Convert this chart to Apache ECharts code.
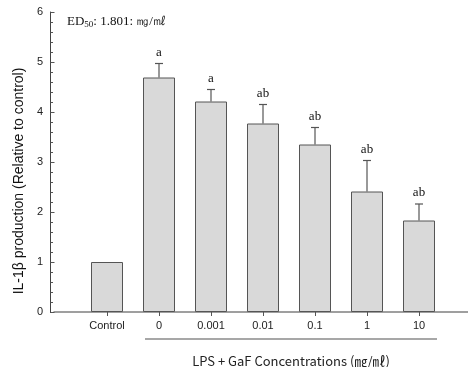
<!DOCTYPE html>
<html>
<head>
<meta charset="utf-8">
<script src="https://cdn.jsdelivr.net/npm/echarts@6/dist/echarts.min.js"></script>
<style>
  html, body { margin: 0; padding: 0; background: #fff; }
  #main { width: 468px; height: 367px; }
</style>
</head>
<body>
<div id="main"></div>
<script>
// data
var categories = ['Control', '0', '0.001', '0.01', '0.1', '1', '10'];
var means = [1.0, 4.69, 4.21, 3.77, 3.35, 2.41, 1.83];
var errors = [0, 0.28, 0.24, 0.38, 0.34, 0.62, 0.33];
var letters = ['', 'a', 'a', 'ab', 'ab', 'ab', 'ab'];
var yMin = 0, yMax = 6;
var yMinorStep = 0.2;

var myChart = echarts.init(document.getElementById('main'));

var errData = means.map(function (v, i) { return [i, v, errors[i], letters[i]]; });

var option = {
    animation: false,
    backgroundColor: '#fff',
    title: {
        text: '{a|ED}{s|50}{a|: 1.801: ㎎/㎖}',
        left: 62,
        top: 9,
        textStyle: {
            rich: {
                a: { fontFamily: 'Liberation Serif', fontSize: 13, fontWeight: 'normal', color: '#111' },
                s: { fontFamily: 'Liberation Serif', fontSize: 9, fontWeight: 'normal', color: '#111', verticalAlign: 'bottom', padding: [6, 0, 0, 0] }
            }
        }
    },
    grid: [
        { left: 81, right: 23, top: 12, bottom: 55 },   // bars
        { left: 54, right: 0, top: 12, bottom: 55 },    // long baseline
        { left: 50, right: 0, top: 12, bottom: 55 }     // y axis
    ],
    xAxis: [
        {
            type: 'category',
            gridIndex: 0,
            data: categories,
            axisLine: { show: false },
            axisTick: { show: true, alignWithLabel: true, length: 4, lineStyle: { color: '#555' } },
            axisLabel: { margin: 8, color: '#222', fontFamily: 'Liberation Sans', fontSize: 11 }
        },
        {
            type: 'value', gridIndex: 1, min: 0, max: 1,
            splitLine: { show: false },
            axisLine: { show: true, lineStyle: { color: '#808080', width: 1.5 } },
            axisTick: { show: false },
            axisLabel: { show: false }
        },
        {
            type: 'value', gridIndex: 2, min: 0, max: 1,
            splitLine: { show: false },
            axisLine: { show: false },
            axisTick: { show: false },
            axisLabel: { show: false }
        }
    ],
    yAxis: [
        { type: 'value', gridIndex: 0, min: yMin, max: yMax, show: false },
        { type: 'value', gridIndex: 1, min: yMin, max: yMax, show: false },
        {
            type: 'value',
            gridIndex: 2,
            min: yMin,
            max: yMax,
            interval: 1,
            name: 'IL-1β production (Relative to control)',
            nameLocation: 'middle',
            nameGap: 24,
            nameTextStyle: { fontFamily: 'Liberation Sans', fontSize: 14, color: '#111', padding: [0, 38, 0, 0] },
            splitLine: { show: false },
            axisLine: { show: true, lineStyle: { color: '#444' } },
            axisTick: { show: true, inside: true, length: 4, lineStyle: { color: '#444' } },
            minorTick: { show: true, splitNumber: 5, length: 2.5, lineStyle: { color: '#666' } },
            axisLabel: { color: '#222', fontFamily: 'Liberation Sans', fontSize: 11, margin: 7 }
        }
    ],
    series: [
        {
            type: 'bar',
            xAxisIndex: 0,
            yAxisIndex: 0,
            data: means,
            barWidth: 32,
            itemStyle: { color: '#d9d9d9', borderColor: '#555', borderWidth: 1 },
            z: 2
        },
        {
            type: 'custom',
            xAxisIndex: 0,
            yAxisIndex: 0,
            data: errData,
            clip: false,
            z: 3,
            renderItem: function (params, api) {
                var x = api.value(0);
                var m = api.value(1);
                var e = api.value(2);
                var lab = api.value(3);
                var base = api.coord([x, m]);
                var top = api.coord([x, m + e]);
                var children = [];
                if (e > 0) {
                    children.push({
                        type: 'line',
                        shape: { x1: base[0], y1: base[1], x2: top[0], y2: top[1] },
                        style: { stroke: '#555', lineWidth: 1.2 }
                    });
                    children.push({
                        type: 'line',
                        shape: { x1: top[0] - 4, y1: top[1], x2: top[0] + 4, y2: top[1] },
                        style: { stroke: '#555', lineWidth: 1.2 }
                    });
                }
                if (lab) {
                    children.push({
                        type: 'text',
                        x: top[0],
                        y: top[1] - 11,
                        style: {
                            text: lab,
                            font: '13px "Liberation Serif"',
                            fill: '#111',
                            align: 'center',
                            verticalAlign: 'middle'
                        }
                    });
                }
                return { type: 'group', children: children };
            }
        }
    ]
};

myChart.setOption(option);

// y axis line and ticks as graphic elements, positioned through the y axis scale
var axisX = 50.5;
var yBottom = myChart.convertToPixel({ yAxisIndex: 2 }, yMin);
var yTop = myChart.convertToPixel({ yAxisIndex: 2 }, yMax);
var graphics = [
    {
        type: 'line', z: 100,
        shape: { x1: axisX, y1: yBottom, x2: axisX, y2: yTop },
        style: { stroke: '#444', lineWidth: 1 }
    }
];
var nSteps = Math.round((yMax - yMin) / yMinorStep);
for (var k = 0; k <= nSteps; k++) {
    var tv = yMin + k * yMinorStep;
    var py = Math.round(myChart.convertToPixel({ yAxisIndex: 2 }, tv)) + 0.5;
    var major = k % 5 === 0;
    graphics.push({
        type: 'line', z: 100,
        shape: { x1: axisX, y1: py, x2: axisX + (major ? 4 : 2.5), y2: py },
        style: { stroke: '#555', lineWidth: 1 }
    });
}
graphics.push({
    type: 'line', z: 100,
    shape: { x1: 145, y1: 339, x2: 437, y2: 339 },
    style: { stroke: '#8a8a8a', lineWidth: 1.5 }
});
graphics.push({
    type: 'text', z: 100,
    x: 291,
    y: 361,
    style: {
        text: 'LPS + GaF Concentrations (㎎/㎖)',
        font: '13px "Noto Sans CJK KR"',
        fill: '#222',
        align: 'center',
        verticalAlign: 'middle'
    }
});
myChart.setOption({ graphic: graphics });
</script>
</body>
</html>
